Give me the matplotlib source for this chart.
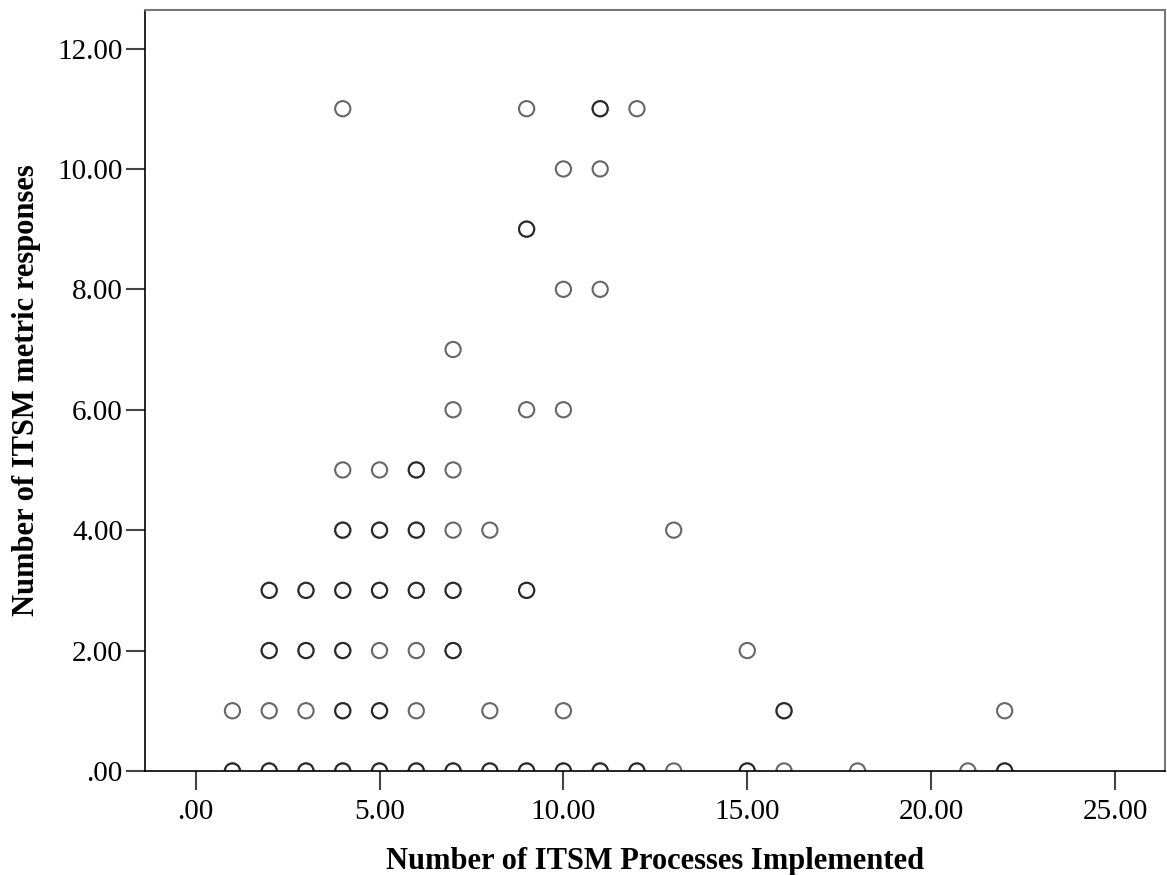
import matplotlib
matplotlib.use("Agg")
import matplotlib.pyplot as plt
from matplotlib.ticker import FuncFormatter

# processes implemented (x) vs metric responses (y); repeats = overlapping cases
processes = [
    4, 9, 11, 11, 12,
    10, 11,
    9, 9,
    10, 11,
    7,
    7, 9, 10,
    4, 5, 6, 6, 7,
    4, 4, 5, 5, 6, 6, 7, 8, 13,
    2, 2, 3, 3, 4, 4, 5, 5, 6, 6, 7, 7, 9, 9,
    2, 2, 3, 3, 4, 4, 5, 6, 7, 7, 15,
    1, 2, 3, 4, 4, 5, 5, 6, 8, 10, 16, 16, 22,
    1, 1, 2, 2, 3, 3, 4, 4, 5, 5, 6, 6, 7, 7, 8, 8, 9, 9, 10, 10,
    11, 11, 12, 12, 13, 15, 15, 16, 18, 21, 22, 22,
]
responses = [
    11, 11, 11, 11, 11,
    10, 10,
    9, 9,
    8, 8,
    7,
    6, 6, 6,
    5, 5, 5, 5, 5,
    4, 4, 4, 4, 4, 4, 4, 4, 4,
    3, 3, 3, 3, 3, 3, 3, 3, 3, 3, 3, 3, 3, 3,
    2, 2, 2, 2, 2, 2, 2, 2, 2, 2, 2,
    1, 1, 1, 1, 1, 1, 1, 1, 1, 1, 1, 1, 1,
    0, 0, 0, 0, 0, 0, 0, 0, 0, 0, 0, 0, 0, 0, 0, 0, 0, 0, 0, 0,
    0, 0, 0, 0, 0, 0, 0, 0, 0, 0, 0, 0,
]
x_ticks = [0, 5, 10, 15, 20, 25]
y_ticks = [0, 2, 4, 6, 8, 10, 12]


def spss_fmt(v, _pos):
    s = f"{v:.2f}"
    return s[1:] if s.startswith("0.") else s


plt.rcParams["font.family"] = ["Liberation Serif", "DejaVu Serif"]

fig = plt.figure(figsize=(11.67, 8.75), dpi=100)
ax = fig.add_axes([0.1243, 0.1189, 0.8740, 0.8697])

ax.scatter(processes, responses, s=120, facecolors="none",
           edgecolors="black", linewidths=1.5, alpha=0.6, zorder=3)

ax.set_xlim(-1.376, 26.36)
ax.set_ylim(0, 12.64)
ax.set_xticks(x_ticks)
ax.set_yticks(y_ticks)
ax.xaxis.set_major_formatter(FuncFormatter(spss_fmt))
ax.yaxis.set_major_formatter(FuncFormatter(spss_fmt))

ax.tick_params(direction="out", length=14, width=1.5, color="#444444",
               labelsize=21, pad=2, top=False, right=False)
ax.tick_params(axis="x", pad=6)

for side in ["left", "bottom"]:
    ax.spines[side].set_color("black")
    ax.spines[side].set_linewidth(1.2)
for side in ["top", "right"]:
    ax.spines[side].set_color("#777777")
    ax.spines[side].set_linewidth(1.5)

ax.set_xlabel("Number of ITSM Processes Implemented", fontsize=22,
              fontweight="bold", labelpad=16)
ax.set_ylabel("Number of ITSM metric responses", fontsize=22,
              fontweight="bold", labelpad=12)

fig.savefig("out.png", dpi=100)
